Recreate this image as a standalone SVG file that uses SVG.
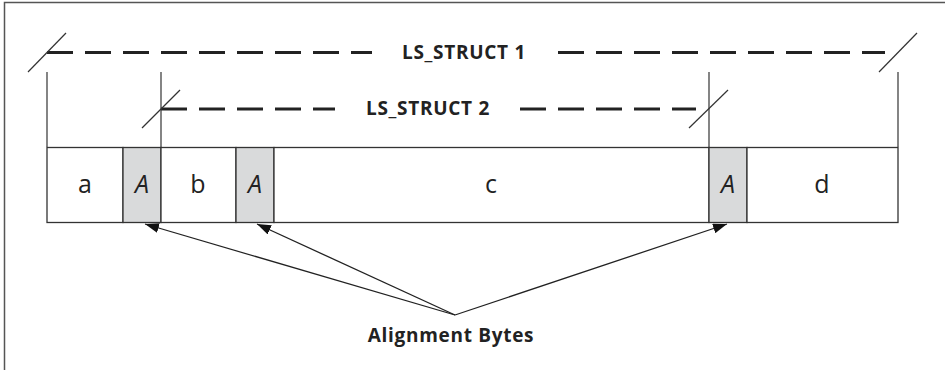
<svg xmlns="http://www.w3.org/2000/svg" width="945" height="370" viewBox="0 0 945 370">
  <defs>
    <style>
      .frame { fill: none; stroke: #555; stroke-width: 1.5; }
      .dash { fill: none; stroke: #222; stroke-width: 3; stroke-dasharray: 26 12; }
      .thin { fill: none; stroke: #333; stroke-width: 1.2; }
      .cell { fill: #fff; stroke: #333; stroke-width: 1.3; }
      .pad { fill: #d9dadb; stroke: #333; stroke-width: 1.3; }
      .lbl { font-family: "Open Sans", "DejaVu Sans", sans-serif; font-size: 25px; fill: #222; text-anchor: middle; }
      .lbl-i { font-style: italic; }
      .title { font-family: "Open Sans", "DejaVu Sans", sans-serif; font-size: 19px; font-weight: bold; fill: #222; text-anchor: middle; letter-spacing: 0.7px; }
      .conn { fill: none; stroke: #222; stroke-width: 1.3; }
    </style>
    <marker id="head" viewBox="0 0 14 10" refX="14" refY="5" markerWidth="14" markerHeight="10" markerUnits="userSpaceOnUse" orient="auto">
      <path d="M0,0 L14,5 L0,10 z" fill="#111"/>
    </marker>
  </defs>

  <rect width="945" height="370" fill="#fff"/>
  <!-- outer frame: left and top edges only -->
  <path class="frame" d="M4.5,370 V2.5 H945"/>

  <!-- LS_STRUCT 1 extent -->
  <g id="ls-struct-1">
    <path class="dash" d="M47,52.5 H372"/>
    <path class="dash" d="M558,52.5 H885"/>
    <line class="thin" x1="28" y1="72" x2="66" y2="33"/>
    <line class="thin" x1="879" y1="72" x2="917" y2="33"/>
    <line class="thin" x1="47" y1="72" x2="47" y2="147"/>
    <line class="thin" x1="898" y1="72" x2="898" y2="147"/>
    <text class="title" x="464" y="59">LS_STRUCT 1</text>
  </g>

  <!-- LS_STRUCT 2 extent -->
  <g id="ls-struct-2">
    <path class="dash" d="M161,109 H335"/>
    <path class="dash" d="M520,109 H696"/>
    <line class="thin" x1="142" y1="128" x2="180" y2="90"/>
    <line class="thin" x1="689" y1="128" x2="728" y2="90"/>
    <line class="thin" x1="161" y1="72" x2="161" y2="147"/>
    <line class="thin" x1="709" y1="72" x2="709" y2="147"/>
    <text class="title" x="428" y="115">LS_STRUCT 2</text>
  </g>

  <!-- memory layout cells -->
  <g id="cell-a">
    <rect class="cell" x="47" y="147.5" width="76" height="75"/>
    <text class="lbl" x="85" y="193">a</text>
  </g>
  <g id="cell-pad-1">
    <rect class="pad" x="123" y="147.5" width="38" height="75"/>
    <text class="lbl lbl-i" x="142" y="193">A</text>
  </g>
  <g id="cell-b">
    <rect class="cell" x="161" y="147.5" width="75" height="75"/>
    <text class="lbl" x="198" y="193">b</text>
  </g>
  <g id="cell-pad-2">
    <rect class="pad" x="236" y="147.5" width="38" height="75"/>
    <text class="lbl lbl-i" x="255" y="193">A</text>
  </g>
  <g id="cell-c">
    <rect class="cell" x="274" y="147.5" width="435" height="75"/>
    <text class="lbl" x="491" y="193">c</text>
  </g>
  <g id="cell-pad-3">
    <rect class="pad" x="709" y="147.5" width="38" height="75"/>
    <text class="lbl lbl-i" x="728" y="193">A</text>
  </g>
  <g id="cell-d">
    <rect class="cell" x="747" y="147.5" width="151" height="75"/>
    <text class="lbl" x="822" y="193">d</text>
  </g>

  <!-- callout label -->
  <g id="alignment-bytes">
    <text class="title" x="451" y="342">Alignment Bytes</text>
  </g>

  <!-- connectors -->
  <g id="connectors">
    <line class="conn" x1="455" y1="315" x2="145" y2="224" marker-end="url(#head)"/>
    <line class="conn" x1="455" y1="315" x2="257" y2="224" marker-end="url(#head)"/>
    <line class="conn" x1="455" y1="315" x2="727" y2="224" marker-end="url(#head)"/>
  </g>
</svg>
